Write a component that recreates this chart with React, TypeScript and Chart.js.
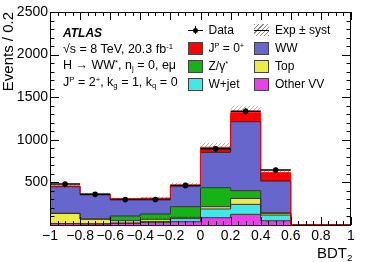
import React, { useEffect, useRef } from 'react';
import { Chart, registerables } from 'chart.js';

Chart.register(...registerables);

// ---------------- data ----------------
const binEdges = [-1, -0.8, -0.6, -0.4, -0.2, 0, 0.2, 0.4, 0.6];
const xMin = -1;
const xMax = 1;
const yMin = 0;
const yMax = 2500;

// background / signal components per bin (bottom of stack first)
const otherVV = [15, 12, 18, 30, 39, 86, 125, 50];
const wJet = [3, 4, 6, 12, 36, 102, 117, 67];
const topQ = [117, 52, 26, 25, 15, 27, 70, 20];
const zGamma = [2, 2, 56, 62, 125, 223, 91, 7];
const wwVals = [313, 285, 195, 174, 243, 415, 809, 372];
const signal0p = [8, 8, 6, 12, 12, 59, 106, 98];
const systErr = [20, 15, 14, 16, 27, 54, 82, 32];

const dataVals = [480, 360, 298, 300, 465, 895, 1334, 646];
const dataErr = [22, 19, 17, 17, 22, 30, 37, 25];

const yTickStep = 500;
const yMinorStep = 100;
const xTickStep = 0.2;
const xMinorStep = 0.05;

const layerLabels = ['Other VV', 'W+jet', 'Top', 'Z/γ*', 'WW', 'JP = 0+'];
const layerColors = ['#ea3fea', '#40e8e8', '#ecec46', '#16b316', '#6666cc', '#ff0000'];
const layerBorders = ['#333333', '#333333', '#333333', '#333333', '#222222', '#ff0000'];

const FONT = "'Liberation Sans', Arial, Helvetica, sans-serif";

function fmtX(v: number): string {
  const r = Math.round(v * 10) / 10;
  if (r === 0) return '0';
  const s = String(Math.abs(r));
  return r < 0 ? '\u2212' + s : s;
}

const frameTicks = {
  id: 'frameTicks',
  afterDatasetsDraw(chart: any) {
    const { ctx, chartArea, scales } = chart;
    const { left, right, top, bottom } = chartArea;
    const x = scales.x;
    const y = scales.y;
    ctx.save();
    ctx.strokeStyle = '#000';
    ctx.lineWidth = 1;
    ctx.beginPath();
    const nY = Math.round((yMax - yMin) / yMinorStep);
    for (let i = 0; i <= nY; i++) {
      const v = yMin + i * yMinorStep;
      const py = Math.round(y.getPixelForValue(v)) + 0.5;
      const major = Math.abs(v / yTickStep - Math.round(v / yTickStep)) < 1e-6;
      const len = major ? 9 : 4.5;
      ctx.moveTo(left, py);
      ctx.lineTo(left + len, py);
      ctx.moveTo(right, py);
      ctx.lineTo(right - len, py);
    }
    const nX = Math.round((xMax - xMin) / xMinorStep);
    for (let i = 0; i <= nX; i++) {
      const v = xMin + i * xMinorStep;
      const px = Math.round(x.getPixelForValue(v)) + 0.5;
      const major = i % Math.round(xTickStep / xMinorStep) === 0;
      const len = major ? 8 : 4;
      ctx.moveTo(px, bottom);
      ctx.lineTo(px, bottom - len);
      ctx.moveTo(px, top);
      ctx.lineTo(px, top + len);
    }
    ctx.stroke();
    ctx.strokeRect(left + 0.5, top + 0.5, right - left - 1, bottom - top);
    ctx.restore();
  },
};

function makeHatch(): CanvasPattern | string {
  const c = document.createElement('canvas');
  c.width = 4;
  c.height = 4;
  const g = c.getContext('2d');
  if (!g) return 'rgba(80,80,80,0.4)';
  g.strokeStyle = 'rgba(70,70,70,0.6)';
  g.lineWidth = 0.7;
  g.beginPath();
  g.moveTo(0, 4);
  g.lineTo(4, 0);
  g.moveTo(-1, 1);
  g.lineTo(1, -1);
  g.moveTo(3, 5);
  g.lineTo(5, 3);
  g.stroke();
  const p = g.createPattern(c, 'repeat');
  return p || 'rgba(80,80,80,0.4)';
}

const Sup = ({ children }: { children: React.ReactNode }) => (
  <sup style={{ fontSize: '0.62em', verticalAlign: '0.55em', lineHeight: 0 }}>{children}</sup>
);
const Sub = ({ children }: { children: React.ReactNode }) => (
  <sub style={{ fontSize: '0.62em', verticalAlign: '-0.3em', lineHeight: 0 }}>{children}</sub>
);

const txt = (left: number, top: number, size: number, extra: React.CSSProperties = {}): React.CSSProperties => ({
  position: 'absolute',
  left,
  top,
  fontFamily: FONT,
  fontSize: size,
  lineHeight: `${size}px`,
  whiteSpace: 'nowrap',
  color: '#000',
  ...extra,
});

const swatch = (left: number, top: number, color: string): React.CSSProperties => ({
  position: 'absolute',
  left,
  top,
  width: 15,
  height: 13,
  background: color,
  border: '1px solid #444',
  boxSizing: 'border-box',
});

export default function App() {
  const canvasRef = useRef<HTMLCanvasElement | null>(null);

  useEffect(() => {
    const canvas = canvasRef.current;
    if (!canvas) return;
    const hatch = makeHatch();
    const nb = binEdges.length - 1;
    const lastEdge = binEdges[nb];

    const layers = [otherVV, wJet, topQ, zGamma, wwVals, signal0p];
    const cum: number[][] = [];
    let running = new Array(nb).fill(0);
    layers.forEach((vals) => {
      running = running.map((r: number, i: number) => r + vals[i]);
      cum.push([...running]);
    });
    const total = cum[cum.length - 1];

    const stackPoints = (vals: number[]) => {
      const pts: { x: number; y: number | null }[] = vals.map((v, i) => ({ x: binEdges[i], y: v }));
      pts.push({ x: lastEdge, y: 0 });
      pts.push({ x: xMax, y: 0 });
      return pts;
    };
    const bandPoints = (vals: number[]) => {
      const pts: { x: number; y: number | null }[] = vals.map((v, i) => ({ x: binEdges[i], y: v }));
      pts.push({ x: lastEdge, y: vals[vals.length - 1] });
      return pts;
    };

    const datasets: any[] = [];
    cum.forEach((vals, k) => {
      datasets.push({
        label: layerLabels[k],
        data: stackPoints(vals),
        stepped: true,
        borderColor: layerBorders[k],
        borderWidth: 1,
        backgroundColor: layerColors[k],
        fill: k === 0 ? 'origin' : '-1',
        pointRadius: 0,
        order: 100 - k,
      });
    });

    datasets.push({
      label: 'bandLo',
      data: bandPoints(total.map((t, i) => t - systErr[i])),
      stepped: true,
      borderWidth: 0,
      borderColor: 'rgba(0,0,0,0)',
      fill: false,
      pointRadius: 0,
      order: 50,
    });
    datasets.push({
      label: 'Exp ± syst',
      data: bandPoints(total.map((t, i) => t + systErr[i])),
      stepped: true,
      borderWidth: 0,
      borderColor: 'rgba(0,0,0,0)',
      backgroundColor: hatch,
      fill: '-1',
      pointRadius: 0,
      order: 49,
    });

    const hErr: { x: number; y: number | null }[] = [];
    const vErr: { x: number; y: number | null }[] = [];
    const pts: { x: number; y: number }[] = [];
    dataVals.forEach((d, i) => {
      const lo = binEdges[i];
      const hi = binEdges[i + 1];
      const c = (lo + hi) / 2;
      hErr.push({ x: lo, y: d }, { x: hi, y: d }, { x: hi, y: null });
      vErr.push({ x: c, y: d - dataErr[i] }, { x: c, y: d + dataErr[i] }, { x: c, y: null });
      pts.push({ x: c, y: d });
    });
    datasets.push({
      label: 'dataH',
      data: hErr,
      borderColor: '#000',
      borderWidth: 1.5,
      spanGaps: false,
      fill: false,
      pointRadius: 0,
      order: 3,
    });
    datasets.push({
      label: 'dataV',
      data: vErr,
      borderColor: '#000',
      borderWidth: 1.5,
      spanGaps: false,
      fill: false,
      pointRadius: 0,
      order: 2,
    });
    datasets.push({
      label: 'Data',
      data: pts,
      showLine: false,
      pointRadius: 2.8,
      pointBackgroundColor: '#000',
      pointBorderWidth: 0,
      fill: false,
      order: 1,
    });

    const chart = new Chart(canvas, {
      type: 'line',
      data: { datasets },
      options: {
        animation: false,
        responsive: true,
        maintainAspectRatio: false,
        events: [],
        layout: { padding: { left: 0, right: 15, top: 12, bottom: 0 } },
        plugins: {
          legend: { display: false },
          tooltip: { enabled: false },
          filler: { propagate: false, drawTime: 'beforeDatasetsDraw' },
        },
        elements: { line: { tension: 0 } },
        scales: {
          x: {
            type: 'linear',
            min: xMin,
            max: xMax,
            grid: { display: false, drawTicks: false },
            border: { display: false },
            ticks: {
              stepSize: xTickStep,
              autoSkip: false,
              maxRotation: 0,
              padding: 3,
              color: '#000',
              font: { family: FONT, size: 14 },
              callback: (v: any) => fmtX(Number(v)),
            },
            afterFit: (s: any) => {
              s.height = 37;
            },
          },
          y: {
            type: 'linear',
            min: yMin,
            max: yMax,
            grid: { display: false, drawTicks: false },
            border: { display: false },
            ticks: {
              stepSize: yTickStep,
              padding: 2,
              color: '#000',
              font: { family: FONT, size: 14 },
              callback: (v: any) => (Number(v) === 0 ? '' : String(v)),
            },
            title: {
              display: true,
              text: 'Events / 0.2',
              align: 'end',
              color: '#000',
              padding: 0,
              font: { family: FONT, size: 15 },
            },
            afterFit: (s: any) => {
              s.width = 50;
            },
          },
        },
      } as any,
      plugins: [frameTicks],
    });
    return () => chart.destroy();
  }, []);

  const c1s = 188;
  const c1t = 208.5;
  const c2s = 254;
  const c2t = 275;
  const rowTop = (r: number) => 24.3 + 18 * r;
  const swTop = (r: number) => 24 + 18 * r;

  return (
    <div style={{ position: 'fixed', left: 0, top: 0, width: 366, height: 262, background: '#fff', overflow: 'hidden' }}>
      <div style={{ position: 'absolute', left: 0, top: 0, width: 366, height: 262 }}>
        <canvas ref={canvasRef} />
      </div>

      {/* ATLAS label block */}
      <div style={txt(63, 26.5, 12, { fontWeight: 'bold', fontStyle: 'italic' })}>ATLAS</div>
      <div style={txt(63, 42.7, 12.5)}>
        √s = 8 TeV, 20.3 fb<Sup>-1</Sup>
      </div>
      <div style={txt(63, 59.4, 12.5)}>
        H → WW<Sup>*</Sup>, n<Sub>j</Sub> = 0, eμ
      </div>
      <div style={txt(63, 76.4, 12.5)}>
        J<Sup>P</Sup> = 2<Sup>+</Sup>, k<Sub>g</Sub> = 1, k<Sub>q</Sub> = 0
      </div>

      {/* legend */}
      <div style={{ position: 'absolute', left: c1s, top: 29.5, width: 15, height: 1.5, background: '#000' }} />
      <div style={{ position: 'absolute', left: c1s + 6.8, top: 26, width: 1.5, height: 8, background: '#000' }} />
      <div style={{ position: 'absolute', left: c1s + 4.7, top: 27.5, width: 5.6, height: 5.6, borderRadius: '50%', background: '#000' }} />
      <div style={txt(c1t, rowTop(0), 12)}>Data</div>

      <div
        style={{
          position: 'absolute',
          left: c2s,
          top: 24,
          width: 15,
          height: 12,
          background: 'repeating-linear-gradient(-45deg, #888 0px, #888 0.8px, transparent 0.8px, transparent 3px)',
        }}
      />
      <div style={{ position: 'absolute', left: c2s, top: 29.5, width: 15, height: 1.2, background: '#000' }} />
      <div style={txt(c2t, rowTop(0), 12)}>Exp ± syst</div>

      <div style={swatch(c1s, swTop(1), layerColors[5])} />
      <div style={txt(c1t, rowTop(1), 12)}>
        J<Sup>P</Sup> = 0<Sup>+</Sup>
      </div>
      <div style={swatch(c2s, swTop(1), layerColors[4])} />
      <div style={txt(c2t, rowTop(1), 12)}>WW</div>

      <div style={swatch(c1s, swTop(2), layerColors[3])} />
      <div style={txt(c1t, rowTop(2), 12)}>
        Z/γ<Sup>*</Sup>
      </div>
      <div style={swatch(c2s, swTop(2), layerColors[2])} />
      <div style={txt(c2t, rowTop(2), 12)}>Top</div>

      <div style={swatch(c1s, swTop(3), layerColors[1])} />
      <div style={txt(c1t, rowTop(3), 12)}>W+jet</div>
      <div style={swatch(c2s, swTop(3), layerColors[0])} />
      <div style={txt(c2t, rowTop(3), 12)}>Other VV</div>

      {/* x-axis title */}
      <div style={txt(317, 245, 15)}>
        BDT<sub style={{ fontSize: '0.65em', verticalAlign: '-0.35em', lineHeight: 0 }}>2</sub>
      </div>
    </div>
  );
}
